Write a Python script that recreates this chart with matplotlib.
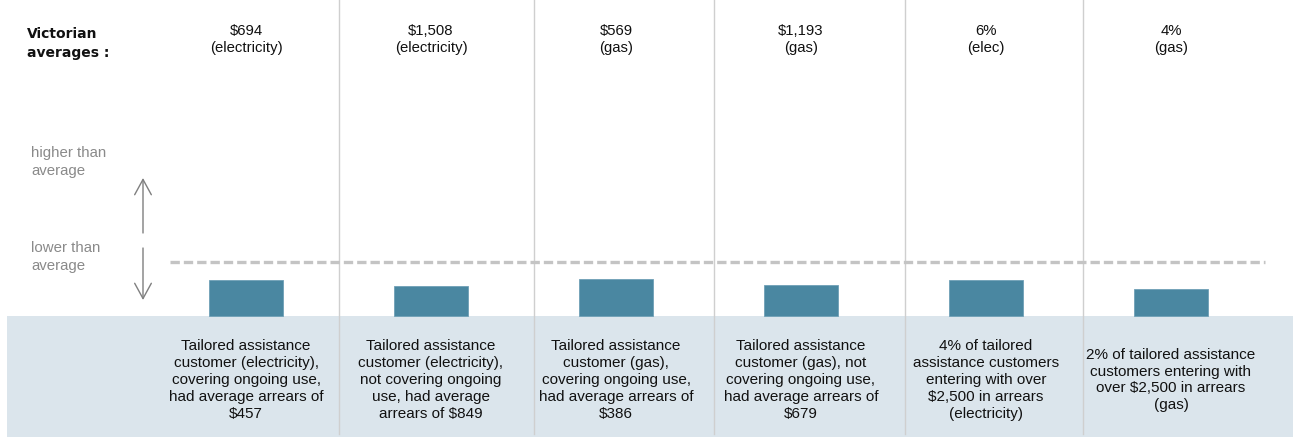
import matplotlib
matplotlib.use("Agg")
import matplotlib.pyplot as plt
from matplotlib.patches import Rectangle

# ---- data ----
top_values = ["$694", "$1,508", "$569", "$1,193", "6%", "4%"]
top_units = ["(electricity)", "(electricity)", "(gas)", "(gas)", "(elec)", "(gas)"]
victorian_avg = [694, 1508, 569, 1193, 6, 4]
tailored_val = [457, 849, 386, 679, 4, 2]
descriptions = [
    "Tailored assistance\ncustomer (electricity),\ncovering ongoing use,\nhad average arrears of\n$457",
    "Tailored assistance\ncustomer (electricity),\nnot covering ongoing\nuse, had average\narrears of $849",
    "Tailored assistance\ncustomer (gas),\ncovering ongoing use,\nhad average arrears of\n$386",
    "Tailored assistance\ncustomer (gas), not\ncovering ongoing use,\nhad average arrears of\n$679",
    "4% of tailored\nassistance customers\nentering with over\n$2,500 in arrears\n(electricity)",
    "2% of tailored assistance\ncustomers entering with\nover $2,500 in arrears\n(gas)",
]
ratios = [t / a for t, a in zip(tailored_val, victorian_avg)]

W, H = 1293, 437
fig = plt.figure(figsize=(W / 100, H / 100), dpi=100)
ax = fig.add_axes([0, 0, 1, 1])
ax.axis("off")

# pixel mapping: column center x_px = 246 + 185*i ; baseline y_px = 316, 1.0 -> 54 px
X0, DX = 246.0, 185.0
Y0, DY = 316.0, 54.0
ax.set_xlim((0 - X0) / DX, (W - X0) / DX)
ax.set_ylim(-(H - Y0) / DY, Y0 / DY)

def px(x):
    return (x - X0) / DX

def py(y):
    return (Y0 - y) / DY

ytop, ybot = py(0), py(H)

# light band at bottom
ax.add_patch(Rectangle((px(7), ybot), px(W + 5) - px(7), 0 - ybot,
                       facecolor="#dbe5ec", edgecolor="none", zorder=0))

# column separators
for sx in [339, 534, 714, 905, 1083]:
    ax.plot([px(sx), px(sx)], [ytop, py(434)], color="#cfcfcf", lw=1.0, zorder=1)

# average dashed line
ax.plot([px(170), px(1265)], [1, 1], color="#c4c4c4", lw=2.4,
        dashes=(2.8, 1.2), zorder=2)

# bars
cols = list(range(len(ratios)))
ax.bar(cols, ratios, width=0.4, bottom=0, color="#4a87a1",
       edgecolor="#6fa0b6", linewidth=0.6, zorder=3)

# top labels
for i in cols:
    ax.text(i, py(24), top_values[i] + "\n" + top_units[i], ha="center", va="top",
            fontsize=10.7, family="Liberation Sans", color="#111111", linespacing=1.24)

# descriptions
for i in cols:
    ax.text(i, py(380), descriptions[i], ha="center", va="center",
            fontsize=11, family="Liberation Sans", color="#111111", linespacing=1.27)

# left labels
ax.text(px(27), py(27), "Victorian\naverages :", ha="left", va="top",
        fontsize=10, family="DejaVu Sans", weight="bold", color="#111111",
        linespacing=1.45)
ax.text(px(31), py(146), "higher than\naverage", ha="left", va="top",
        fontsize=10.8, family="Liberation Sans", color="#8a8a8a", linespacing=1.32)
ax.text(px(31), py(241), "lower than\naverage", ha="left", va="top",
        fontsize=10.8, family="Liberation Sans", color="#8a8a8a", linespacing=1.32)

# arrows
arrow = dict(arrowstyle="->,head_length=1.1,head_width=0.6", mutation_scale=10,
             color="#7f7f7f", lw=1.0, shrinkA=0, shrinkB=0)
ax.annotate("", xy=(px(143), py(178)), xytext=(px(143), py(233)), arrowprops=arrow)
ax.annotate("", xy=(px(143), py(300)), xytext=(px(143), py(248)), arrowprops=arrow)

fig.savefig("out.png", dpi=100)
